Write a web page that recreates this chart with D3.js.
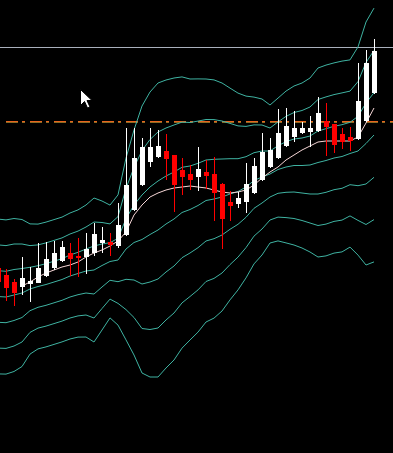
<!DOCTYPE html>
<html><head><meta charset="utf-8">
<script src="https://cdn.jsdelivr.net/npm/d3@7/dist/d3.min.js"></script>
<style>html,body{margin:0;padding:0;background:#000;overflow:hidden}</style>
</head><body>
<svg id="c" width="393" height="453"></svg>
<script>
// bar index (-1 is the partially visible bar at the left edge)
const bars  = d3.range(-1, 47);
const open  = [185,178,171,166,169,170,177,185,192,200,197,196,200,210,211,207,218,243,268,291,296,302,298,283,279,276,281,279,269,251,249,251,260,273,286,295,307,316,320,321,322,332,329,319,316,314,332,360];
const high  = [191,184,174,196,186,210,211,212,212,210,215,220,230,226,220,250,325,325,315,325,323,319,298,295,288,306,293,296,270,262,261,290,295,320,315,344,345,342,331,337,356,350,329,325,326,390,403,414];
const low   = [163,152,147,158,151,170,176,183,191,177,176,179,197,200,197,205,217,242,267,286,295,273,241,258,263,262,264,232,204,232,245,240,259,272,285,294,306,311,319,306,321,297,300,304,302,313,331,359];
const close = [171,165,160,175,172,185,194,200,206,194,195,204,219,213,208,228,268,295,306,306,307,294,268,276,273,284,277,260,234,247,255,269,287,301,303,320,327,325,325,325,340,326,308,311,312,352,390,402];
// short moving average (pink), null where not drawn
const ma    = [null,null,null,167,171,176,180,183,186,188,191,196,200,203,207,212,221,238,248,256,260,263,265,266,267,266,265,263,261,260,261,263,268,275,281,286,293,298,303,307,311,312,312,312,312,316,330,345];
// Bollinger middle line and standard deviation
const bbMid = [156.5,156,158,160,164,166.5,168.5,171,173.5,177,179.5,182,183,187.5,191.5,193,204,210.5,213.5,218.5,223,229,234,240.5,243.5,247.5,252.5,254,256,259,261.5,266,272.5,276,279,283.5,286,287.5,287.5,288,290.5,292.5,295,296.5,299.5,302,309.5,318];
const bbDev = [25.8,25.7,25.5,24.5,21.7,20.8,20.8,20.8,20.8,21,21.2,22,24,21.5,18.8,21.7,30.3,37.5,44.5,47.5,49,48,47,45.2,43.5,42.2,40.5,39.7,38,35.3,32.8,30.3,27.8,26,23,23.8,25.3,26.5,27.5,29,31.5,31.8,31.7,31.8,31.2,34.7,40.5,42.3];
const bandMult = [3,2,1,0,-1,-2,-3];
// horizontal price levels
const levelSolid = [406];
const levelDash  = [332];

const W = 393, H = 453;
const svg = d3.select("#c");
svg.append("rect").attr("width", W).attr("height", H).attr("fill", "#000");

const x = d3.scaleLinear().domain([-1, 46]).range([-2, 374]);
const y = d3.scaleLinear().domain([0, 453]).range([453, 0]);

// horizontal lines
svg.selectAll(".lvl").data(levelSolid).join("line")
  .attr("x1", 0).attr("x2", W)
  .attr("y1", d => Math.round(y(d)) + 0.5).attr("y2", d => Math.round(y(d)) + 0.5)
  .attr("stroke", "#a9b0bc").attr("stroke-width", 1);
svg.selectAll(".dsh2").data(levelDash).join("line")
  .attr("x1", 6).attr("x2", W)
  .attr("y1", d => Math.round(y(d)) + 1.5).attr("y2", d => Math.round(y(d)) + 1.5)
  .attr("stroke", "#8a6a22").attr("stroke-width", 1).attr("stroke-dasharray", "12,4,3,5");
svg.selectAll(".dsh1").data(levelDash).join("line")
  .attr("x1", 6).attr("x2", W)
  .attr("y1", d => Math.round(y(d)) + 0.5).attr("y2", d => Math.round(y(d)) + 0.5)
  .attr("stroke", "#e8641e").attr("stroke-width", 1).attr("stroke-dasharray", "12,4,3,5");

// Bollinger lines
const teal = "#3fb3a2";
bandMult.forEach(k => {
  const ln = d3.line().x((d, i) => x(bars[i])).y((d, i) => y(bbMid[i] + k * bbDev[i]));
  svg.append("path").datum(bbMid).attr("d", ln)
    .attr("fill", "none").attr("stroke", teal).attr("stroke-width", 1);
});

// moving average
const maLine = d3.line().defined(d => d != null).x((d, i) => x(bars[i])).y(d => y(d));
svg.append("path").datum(ma).attr("d", maLine)
  .attr("fill", "none").attr("stroke", "#f6d6d6").attr("stroke-width", 1);

// candles
const up = i => close[i] >= open[i];
const g = svg.append("g").attr("shape-rendering", "crispEdges");
g.selectAll(".wick").data(bars).join("line")
  .attr("x1", (d) => Math.round(x(d)) + 0.5).attr("x2", (d) => Math.round(x(d)) + 0.5)
  .attr("y1", (d, i) => y(high[i])).attr("y2", (d, i) => y(low[i]))
  .attr("stroke", (d, i) => up(i) ? "#ffffff" : "#ff0000").attr("stroke-width", 1);
g.selectAll(".body").data(bars).join("rect")
  .attr("x", d => Math.round(x(d)) - 2)
  .attr("width", 5)
  .attr("y", (d, i) => y(Math.max(open[i], close[i])))
  .attr("height", (d, i) => Math.max(1, Math.abs(y(open[i]) - y(close[i]))))
  .attr("fill", (d, i) => up(i) ? "#ffffff" : "#ff0000");

// mouse pointer
svg.append("path")
  .attr("d", "M0,0 L0,16 L4,12 L7,18.5 L9.5,17.5 L6.5,11 L11.5,11 Z")
  .attr("transform", "translate(80.5,89.5)")
  .attr("fill", "#ffffff").attr("stroke", "#000").attr("stroke-width", 1);
</script>
</body></html>
